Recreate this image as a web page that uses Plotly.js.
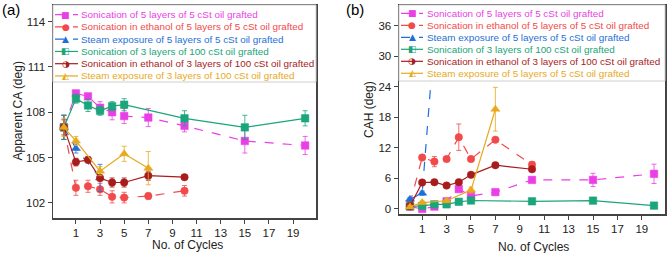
<!DOCTYPE html>
<html><head><meta charset="utf-8">
<script src="https://cdn.plot.ly/plotly-3.0.1.min.js"></script>
<style>html,body{margin:0;padding:0;background:#fff}#chart{width:667px;height:253px}</style>
</head><body><div id="chart"></div>
<script>
// ---------- data ----------
var namesA = ["Sonication of 5 layers of 5 cSt oil grafted","Sonication in ethanol of 5 layers of 5 cSt oil grafted","Steam exposure of 5 layers of 5 cSt oil grafted","Sonication of 3 layers of 100 cSt oil grafted","Sonication in ethanol of 3 layers of 100 cSt oil grafted","Steam exposure of 3 layers of 100 cSt oil grafted"];
var namesB = ["Sonication of 5 layers of 5 cSt oil grafted","Sonication in ethanol of 5 layers of 5 cSt oil grafted","Steam exposure of 5 layers of 5 cSt oil grafted","Sonication of 3 layers of 100 cSt oil grafted","Sonication in ethanol of 3 layers of 100 cSt oil grafted","Steam exposure of 5 layers of 5 cSt oil grafted"];
var xTitle = 'No. of Cycles';
var yTitleA = 'Apparent CA (deg)';
var yTitleB = 'CAH (deg)';
var xTicks = [1,3,5,7,9,11,13,15,17,19];
var yTicksA = [102,105,108,111,114];
var yTicksB = [0,6,12,18,24,30,36];

var cycMag = [0,1,2,3,4,5,7,10,15,20];
var cycRed = [0,1,2,3,4,5,7,10];
var cycBlue = [0,1,3];
var cycGreen = [0,1,2,3,4,5,10,15,20];
var cycDark = [0,1,2,3,4,5,7,10];
var cycOrange = [0,1,3,5,7];

var caMag = [107.0,109.25,109.05,108.3,108.0,107.75,107.65,107.1,106.1,105.8];
var caMagErr = [0.8,0.15,0.2,0.4,0.5,0.5,0.6,0.4,0.8,0.6];
var caRed = [107.0,103.0,103.1,102.9,102.4,102.35,102.45,102.8];
var caRedErr = [0.8,0.5,0.4,0.4,0.4,0.35,0.2,0.35];
var caBlue = [107.0,105.6,103.65];
var caBlueErr = [0.8,0.3,0.9];
var caGreen = [107.0,108.9,108.45,108.1,108.4,108.5,107.6,107.0,107.6];
var caGreenErr = [0.8,0.3,0.4,0.3,0.3,0.4,0.5,0.8,0.5];
var caDark = [107.0,104.7,104.85,103.65,103.35,103.35,103.8,103.7];
var caDarkErr = [0.5,0.25,0.2,0.2,0.3,0.3,0.3,0.15];
var caOrange = [107.0,106.1,104.1,105.25,104.3];
var caOrangeErr = [0.6,0.3,0.3,0.5,1.1];

var cahMag = [0.45,0.0,0.45,1.5,3.9,2.55,3.3,5.7,5.7,6.9];
var cahMagErr = [0.3,0.3,0.3,0.3,0.5,0.5,0.4,0.5,1.3,1.9];
var cahRed = [1.0,10.1,9.3,9.8,14.1,9.8,13.6,8.7];
var cahRedErr = [0.3,0.4,1.0,0.4,2.6,0.4,0.4,0.6];
var cahBlue = [1.9,3.1,64];
var cahBlueErr = [0.3,0.4,0];
var cahGreen = [0.5,0.6,0.9,0.9,1.4,1.65,1.5,1.63,0.65];
var cahGreenErr = [0.2,0.2,0.2,0.2,0.2,0.3,0.3,0.3,0.3];
var cahDark = [0.5,5.2,5.25,4.6,5.25,6.7,8.6,7.8];
var cahDarkErr = [0.2,0.3,0.3,0.3,0.3,0.3,0.4,0.3];
var cahOrange = [0.4,1.25,1.6,3.7,19.6];
var cahOrangeErr = [0.2,0.3,0.3,0.6,4.3];

// ---------- styles ----------
var colors = ['#ea3fe6','#f24a4a','#1f6fd8','#1aa57a','#a81c1c','#e8a91c'];
var dashes = ['dash','dash','dash','solid','solid','solid'];
var symbols = ['square','circle','triangle-up','square','circle','triangle-up'];
var glyphs = ['\u25A0','\u25CF','\u25B2','\u25E7','\u25D1','\u25ED'];
var FONT = 'Liberation Sans, Arial, sans-serif';

var seriesA = [[cycMag,caMag,caMagErr],[cycRed,caRed,caRedErr],[cycBlue,caBlue,caBlueErr],[cycGreen,caGreen,caGreenErr],[cycDark,caDark,caDarkErr],[cycOrange,caOrange,caOrangeErr]];
var seriesB = [[cycMag,cahMag,cahMagErr],[cycRed,cahRed,cahRedErr],[cycBlue,cahBlue,cahBlueErr],[cycGreen,cahGreen,cahGreenErr],[cycDark,cahDark,cahDarkErr],[cycOrange,cahOrange,cahOrangeErr]];

var W = 667, H = 253;
function px(x){return x/W;}
function py(y){return 1 - y/H;}

var traces = [];
function addSeries(series, names, xa, ya){
  series.forEach(function(s,i){
    traces.push({
      x:s[0], y:s[1], xaxis:xa, yaxis:ya, name:names[i], type:'scatter', mode:'lines+markers',
      line:{color:colors[i], width:1.2, dash:dashes[i]},
      marker:{symbol:symbols[i], size:(i===2||i===5)?8:7.5, color:colors[i], line:{color:colors[i], width:0.5}},
      error_y:{type:'data', array:s[2], visible:true, color:colors[i], thickness:0.8, width:2.5},
      showlegend:false, cliponaxis:true
    });
  });
}
addSeries(seriesA, namesA, 'x', 'y');
addSeries(seriesB, namesB, 'x2', 'y2');

// panel pixel boxes
var A = {l:53, r:316, t:5, b:218};
var B = {l:399, r:665, t:5, b:214};

var shapes = [], annotations = [];
function addLegend(box, names, bottom, row0, rowH, lx0, lx1, mx, tx){
  shapes.push({type:'rect', xref:'paper', yref:'paper', x0:px(box.l), x1:px(box.r), y0:py(box.t), y1:py(bottom),
    fillcolor:'#ffffff', line:{color:'#cfcfcf', width:1}, layer:'above'});
  names.forEach(function(n,i){
    var yy = row0 + rowH*i;
    shapes.push({type:'line', xref:'paper', yref:'paper', x0:px(lx0), x1:px(lx1), y0:py(yy), y1:py(yy),
      line:{color:colors[i], width:1.2, dash:dashes[i]}, layer:'above'});
    annotations.push({xref:'paper', yref:'paper', x:px(mx), y:py(yy), text:glyphs[i], showarrow:false,
      xanchor:'center', yanchor:'middle', font:{family:'DejaVu Sans', size:9, color:colors[i]}, bgcolor:'rgba(255,255,255,0)'});
    annotations.push({xref:'paper', yref:'paper', x:px(tx), y:py(yy), text:n, showarrow:false,
      xanchor:'left', yanchor:'middle', font:{family:FONT, size:9.9, color:colors[i]}});
  });
}
addLegend(A, namesA, 82, 14.7, 12.25, 55, 78, 65.5, 79);
addLegend(B, namesB, 81, 13.3, 12.0, 401, 423, 412, 425);

var tf = {family:FONT, size:12, color:'#222'};
annotations.push({xref:'paper', yref:'paper', x:px(0), y:py(9), text:'(a)', showarrow:false, xanchor:'left', yanchor:'middle', font:{family:FONT, size:15, color:'#000'}});
annotations.push({xref:'paper', yref:'paper', x:px(344), y:py(9), text:'(b)', showarrow:false, xanchor:'left', yanchor:'middle', font:{family:FONT, size:15, color:'#000'}});
annotations.push({xref:'paper', yref:'paper', x:px(187.5), y:py(245), text:xTitle, showarrow:false, xanchor:'center', yanchor:'middle', font:tf});
annotations.push({xref:'paper', yref:'paper', x:px(533), y:py(246.5), text:xTitle, showarrow:false, xanchor:'center', yanchor:'middle', font:tf});
annotations.push({xref:'paper', yref:'paper', x:px(17.5), y:py(111), text:yTitleA, textangle:-90, showarrow:false, xanchor:'center', yanchor:'middle', font:tf});
annotations.push({xref:'paper', yref:'paper', x:px(369), y:py(110), text:yTitleB, textangle:-90, showarrow:false, xanchor:'center', yanchor:'middle', font:tf});

function axisBase(){
  return {showgrid:false, zeroline:false, showline:true, linecolor:'#444', linewidth:1.5, mirror:true,
    ticks:'outside', ticklen:4, tickwidth:1, tickcolor:'#444', tickfont:{family:FONT, size:11.5, color:'#222'}, fixedrange:true};
}
var xa = axisBase(); xa.domain=[px(A.l), px(A.r)]; xa.range=[-0.9,20.9]; xa.tickvals=xTicks; xa.anchor='y';
var ya = axisBase(); ya.domain=[py(A.b), py(A.t)]; ya.range=[101,115.1]; ya.tickvals=yTicksA; ya.anchor='x';
var xb = axisBase(); xb.domain=[px(B.l), px(B.r)]; xb.range=[-0.9,20.9]; xb.tickvals=xTicks; xb.anchor='y2';
var yb = axisBase(); yb.domain=[py(B.b), py(B.t)]; yb.range=[-1,40.1]; yb.tickvals=yTicksB; yb.anchor='x2';

var layout = {
  width:W, height:H, margin:{l:0,r:0,t:0,b:0,pad:0}, paper_bgcolor:'#fff', plot_bgcolor:'#fff',
  showlegend:false, font:{family:FONT},
  xaxis:xa, yaxis:ya, xaxis2:xb, yaxis2:yb, shapes:shapes, annotations:annotations
};
Plotly.newPlot('chart', traces, layout, {staticPlot:true, displayModeBar:false});
</script></body></html>
